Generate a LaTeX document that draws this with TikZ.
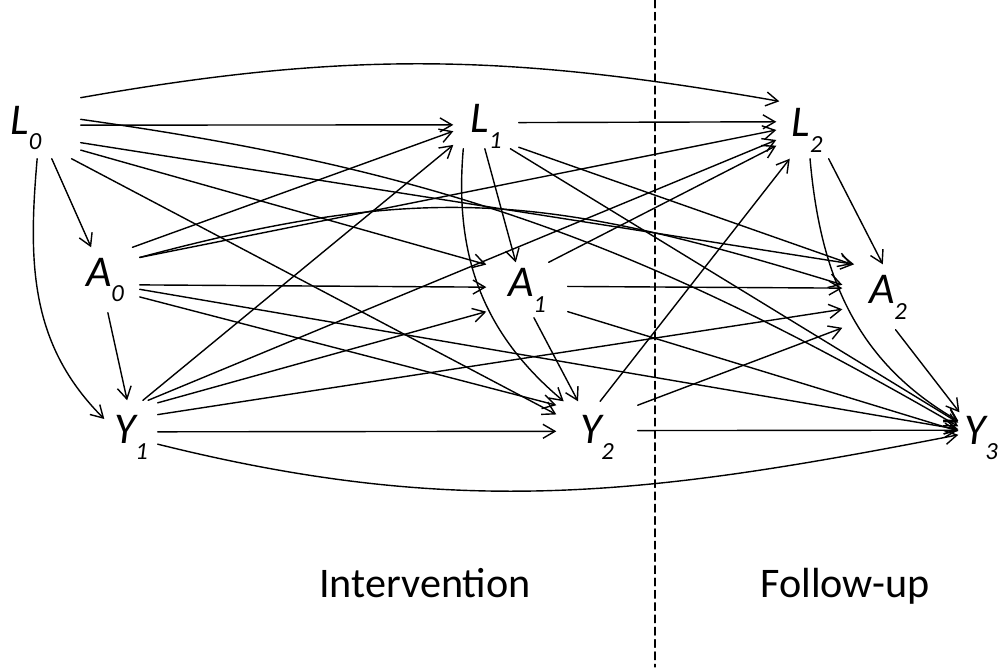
\documentclass[tikz,border=0pt]{standalone}
\usepackage{fontspec}
\setmainfont{Carlito}
\usetikzlibrary{arrows.meta}

\newcommand{\var}[2]{#1\raisebox{-9pt}{\fontsize{14}{16}\selectfont #2}}

\begin{document}
\begin{tikzpicture}[
    x=0.02cm, y=0.02cm,
    line cap=round, line width=0.8pt,
    var/.style={inner sep=0pt, font=\fontsize{25}{28}\selectfont\itshape},
    arr/.style={-{Straight Barb[length=2.4mm,width=2.8mm]}},
    divider/.style={dash pattern=on 4.5pt off 2.5pt, line width=0.6pt},
    phase/.style={anchor=base, font=\fontsize{24}{28}\selectfont},
  ]
  \useasboundingbox (0,0) rectangle (1003,-667);

  % Variables
  \node [var, minimum width=2.16cm, minimum height=1.2cm]  (L0) at (26,-128)  {\var{L}{0}};
  \node [var, minimum width=1.36cm, minimum height=1.28cm] (A0) at (105,-280) {\var{A}{0}};
  \node [var, minimum width=1.04cm, minimum height=1.44cm] (Y1) at (131,-437) {\var{Y}{1}};
  \node [var, minimum width=1.28cm, minimum height=0.88cm] (L1) at (486,-126) {\var{L}{1}};
  \node [var, minimum width=1.6cm,  minimum height=1.08cm] (A1) at (527,-290) {\var{A}{1}};
  \node [var, minimum width=1.6cm,  minimum height=1.4cm]  (Y2) at (597,-437) {\var{Y}{2}};
  \node [var, minimum width=1.2cm,  minimum height=1.12cm] (L2) at (807,-130) {\var{L}{2}};
  \node [var, minimum width=1.8cm,  minimum height=1.28cm] (A2) at (888,-297) {\var{A}{2}};
  \node [var, minimum width=0.88cm, minimum height=1.0cm]  (Y3) at (981,-438) {\var{Y}{3}};

  % Phases
  \draw [divider] (655,0) -- (655,-667);
  \node [phase] (intervention) at (425,-597) {Intervention};
  \node [phase] (followup) at (845,-597) {Follow-up};

  % from L0
  \draw [arr] (L0.-50) -- (A0.113);
  \draw [arr] (L0.-70) to [out=-95, in=135] (Y1.146);
  \draw [arr] (L0.3) -- (L1.178);
  \draw [arr] (L0.-22) -- (A1.148);
  \draw [arr] (L0.-34) -- (Y2.151);
  \draw [arr] (L0.29) to [out=10, in=170] (L2.134);
  \draw [arr] (L0.-15) -- (A2.136);
  \draw [arr] (L0.9) to [out=-8, in=150] (Y3.153);

  % from A0
  \draw [arr] (A0.-85) -- (Y1.96);
  \draw [arr] (A0.50) -- (L1.-171);
  \draw [arr] (A0.-8) -- (A1.176);
  \draw [arr] (A0.-26) -- (Y2.142);
  \draw [arr] (A0.33) -- (L2.180);
  \draw [arr] (A0.33) to [out=15, in=163, looseness=1.1] (A2.165);
  \draw [arr] (A0.-15) -- (Y3.159);

  % from Y1
  \draw [arr] (Y1.72) -- (L1.210);
  \draw [arr] (Y1.52) -- (A1.208);
  \draw [arr] (Y1.11) -- (Y2.172);
  \draw [arr] (Y1.65) -- (L2.198);
  \draw [arr] (Y1.40) -- (A2.195);
  \draw [arr] (Y1.-15) to [out=-14, in=-169] (Y3.172);

  % from L1
  \draw [arr] (L1.267) -- (A1.112);
  \draw [arr] (L1.225) to [out=-95, in=140] (Y2.133);
  \draw [arr] (L1.6) -- (L2.165);
  \draw [arr] (L1.-33) -- (A2.138);
  \draw [arr] (L1.-43) -- (Y3.146);

  % from A1
  \draw [arr] (A1.-76) -- (Y2.118);
  \draw [arr] (A1.52) -- (L2.207);
  \draw [arr] (A1.5) -- (A2.169);
  \draw [arr] (A1.-28) -- (Y3.163);

  % from Y2
  \draw [arr] (Y2.85) -- (L2.239);
  \draw [arr] (Y2.38) -- (A2.214);
  \draw [arr] (Y2.9) -- (Y3.161);

  % from L2 and A2
  \draw [arr] (L2.-53) -- (A2.99);
  \draw [arr] (L2.-84) to [out=-85, in=150] (Y3.143);
  \draw [arr] (A2.-77) -- (Y3.130);
\end{tikzpicture}
\end{document}
